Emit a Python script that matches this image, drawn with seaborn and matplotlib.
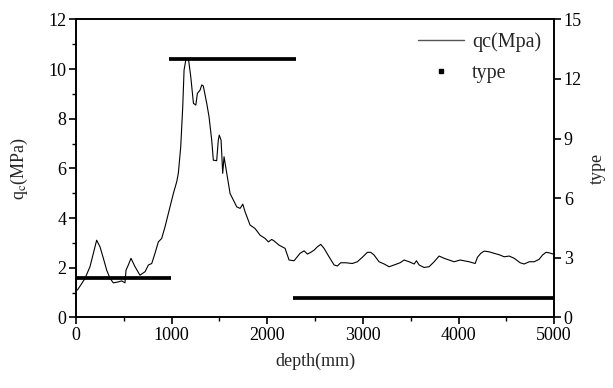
import numpy as np
import pandas as pd
import matplotlib
matplotlib.use("Agg")
import matplotlib.pyplot as plt
from matplotlib.lines import Line2D
import seaborn as sns

# qc curve (depth in mm, qc in MPa)
depth = [14, 49, 94, 146, 181, 216, 251, 286, 321, 356, 390, 443, 478, 512, 523, 547, 575,
         617, 669, 722, 757, 792, 826, 861, 896, 931, 983, 1018, 1053, 1070, 1095, 1116,
         1130, 1151, 1175, 1200, 1228, 1253, 1269, 1297, 1315, 1331, 1367, 1391, 1419,
         1436, 1471, 1488, 1498, 1517, 1534, 1548, 1576, 1611, 1646, 1681, 1716, 1744,
         1768, 1820, 1872, 1925, 1977, 2012, 2046, 2071, 2123, 2186, 2228, 2280, 2343,
         2385, 2420, 2455, 2490, 2524, 2559, 2594, 2646, 2699, 2733, 2768, 2820, 2890,
         2942, 2994, 3047, 3082, 3117, 3169, 3222, 3274, 3326, 3389, 3431, 3483, 3536,
         3560, 3588, 3640, 3692, 3745, 3797, 3849, 3902, 3954, 4017, 4059, 4111, 4174,
         4198, 4233, 4268, 4320, 4372, 4435, 4477, 4530, 4582, 4644, 4686, 4739, 4791,
         4843, 4878, 4916, 4948, 4990]
qc = [1.10, 1.30, 1.57, 2.04, 2.58, 3.11, 2.84, 2.38, 1.90, 1.57, 1.39, 1.43, 1.47, 1.39,
      1.90, 2.11, 2.38, 2.04, 1.70, 1.84, 2.11, 2.17, 2.58, 3.04, 3.18, 3.65, 4.45, 4.99,
      5.46, 5.80, 6.87, 8.48, 9.96, 10.43, 10.43, 9.69, 8.62, 8.55, 9.02, 9.15, 9.36,
      9.32, 8.62, 8.08, 7.14, 6.33, 6.31, 7.14, 7.34, 7.14, 5.80, 6.47, 5.80, 4.99, 4.72,
      4.45, 4.39, 4.56, 4.25, 3.72, 3.58, 3.31, 3.18, 3.04, 3.14, 3.08, 2.91, 2.78, 2.31,
      2.28, 2.58, 2.68, 2.55, 2.62, 2.71, 2.84, 2.94, 2.78, 2.44, 2.11, 2.07, 2.20, 2.20,
      2.17, 2.24, 2.42, 2.62, 2.62, 2.51, 2.24, 2.15, 2.04, 2.11, 2.20, 2.31, 2.24, 2.15,
      2.28, 2.11, 2.01, 2.04, 2.24, 2.47, 2.38, 2.31, 2.24, 2.31, 2.28, 2.24, 2.17, 2.42,
      2.58, 2.67, 2.64, 2.58, 2.51, 2.44, 2.47, 2.38, 2.20, 2.15, 2.24, 2.24, 2.34, 2.51,
      2.62, 2.60, 2.55]

# soil type segments
type_start = [0, 973, 2270]
type_end = [990, 2298, 5000]
type_val = [2, 13, 1]

xticks = [0, 1000, 2000, 3000, 4000, 5000]
yticks_left = [0, 2, 4, 6, 8, 10, 12]
yticks_right = [0, 3, 6, 9, 12, 15]

sns.set_theme(style="ticks")
plt.rcParams['font.family'] = ['Liberation Serif', 'DejaVu Serif']
plt.rcParams['mathtext.fontset'] = 'stix'

fig = plt.figure(figsize=(6.13, 3.88), dpi=100)
ax = fig.add_axes([0.124, 0.182, 0.780, 0.768])
df = pd.DataFrame({"depth": depth, "qc": qc})
sns.lineplot(data=df, x="depth", y="qc", ax=ax, color="black", linewidth=0.8)

ax2 = ax.twinx()
ax2.hlines(type_val, type_start, type_end, colors="black", linewidth=2.7)

ax.set_xlim(0, 5000)
ax.set_ylim(0, 12)
ax2.set_ylim(0, 15)
ax.set_xticks(xticks)
ax.set_yticks(yticks_left)
ax2.set_yticks(yticks_right)
ax.set_xticks([500, 1500, 2500, 3500, 4500], minor=True)
ax.set_yticks([1, 3, 5, 7, 9, 11], minor=True)

fs = 13
ax.set_xlabel("depth(mm)", fontsize=fs, labelpad=6)
ax.set_ylabel(r"q$_\mathrm{c}$(MPa)", fontsize=fs, labelpad=13)
ax2.set_ylabel("type", fontsize=fs, labelpad=5)

for a in (ax, ax2):
    for s in a.spines.values():
        s.set_linewidth(1.2)
        s.set_visible(True)
        s.set_color("black")
    a.tick_params(axis="both", which="major", direction="out", length=5, width=1.2,
                  labelsize=fs, colors="black", pad=2)
    a.tick_params(axis="both", which="minor", direction="out", length=3, width=1.0,
                  colors="black")
ax.tick_params(top=False, right=False)
ax2.tick_params(left=False, top=False)

handles = [Line2D([], [], color="#555555", linewidth=1.0),
           Line2D([], [], color="black", marker="s", linestyle="none", markersize=2.5)]
ax.legend(handles, ["qc(Mpa)", "type"], loc="upper right", frameon=False, fontsize=14.5,
          handlelength=2.3, borderaxespad=0.1, borderpad=0.55, labelspacing=0.6,
          handletextpad=0.4)

fig.savefig("out.png", dpi=100)
